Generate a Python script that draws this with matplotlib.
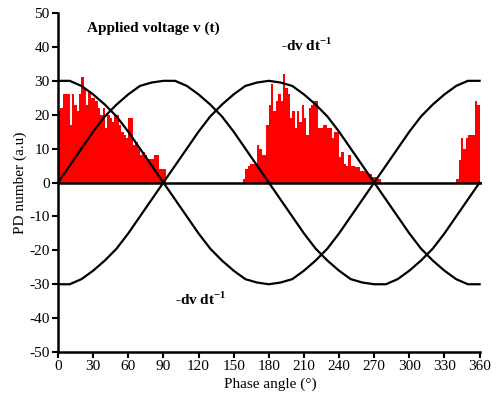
import matplotlib
matplotlib.use("Agg")
import matplotlib.pyplot as plt
import numpy as np

plt.rcParams['font.family'] = ['Liberation Serif', 'DejaVu Serif']
plt.rcParams['mathtext.fontset'] = 'custom'
plt.rcParams['mathtext.rm'] = 'Liberation Serif'
plt.rcParams['mathtext.bf'] = 'Liberation Serif:bold'
plt.rcParams['axes.unicode_minus'] = False

# ---- PD histogram (2 degree bins, left edges) ----
bins1 = list(range(0, 92, 2))
pd1 = [21, 22, 26, 26, 26, 17, 26, 23, 21, 26, 31, 28, 23, 27, 25, 25, 24, 22,
       20, 22, 16, 20, 19, 18, 20, 20, 17, 15, 14, 13, 19, 19, 11, 12, 10, 8,
       9, 8, 7, 7, 7, 8, 8, 4, 4, 4]
bins2 = list(range(158, 276, 2))
pd2 = [1, 4, 5, 5.5, 5.5, 5.5, 11, 10, 8, 8, 17, 23, 29, 21, 24, 26, 24, 32,
       28, 26, 19, 21, 16, 21, 18, 23, 19, 14, 22, 23, 24, 24, 16, 16, 17, 17,
       16, 16, 13, 15, 15, 7.6, 9, 5.5, 5, 8, 5, 5, 4.7, 4.7, 3.5, 3.5, 3, 2.5,
       2.5, 1.5, 1.5, 1, 1]
bins3 = list(range(340, 360, 2))
pd3 = [1, 6.7, 13, 10, 13, 14, 14, 14, 24, 23]

# ---- curves read every 10 degrees ----
phase = list(range(0, 370, 10))
v_t = [0, 5, 10, 15, 19.5, 23, 26, 28.5, 29.5, 30, 30, 28.5, 26, 23, 19.5, 15,
       10, 5, 0, -5, -10, -15, -19.5, -23, -26, -28.5, -29.5, -30, -30, -28.5,
       -26, -23, -19.5, -15, -10, -5, 0]
cos_curve = [30, 30, 28.5, 26, 23, 19.5, 15, 10, 5, 0, -5, -10, -15, -19.5, -23,
             -26, -28.5, -29.5, -30, -29.5, -28.5, -26, -23, -19.5, -15, -10, -5,
             0, 5, 10, 15, 19.5, 23, 26, 28.5, 30, 30]
neg_dvdt = [-c for c in cos_curve]

xticks = list(range(0, 361, 30))
yticks = list(range(-50, 51, 10))

fig = plt.figure(figsize=(4.97, 4.07), dpi=100)
ax = fig.add_axes([0.1167, 0.135, 0.853, 0.833])

for b, h in ((bins1, pd1), (bins2, pd2), (bins3, pd3)):
    ax.bar(b, h, width=2, align='edge', color='#ff0000', linewidth=0, zorder=1)

for yv in (v_t, cos_curve, neg_dvdt):
    ax.plot(phase, yv, color='black', lw=1.6, zorder=3)

ax.axhline(0, color='black', lw=1.8, zorder=4)

ax.set_xlim(0, 362)
ax.set_ylim(-50, 50)
ax.set_xticks(xticks)
ax.set_yticks(yticks)
ax.tick_params(labelsize=11, length=4, width=1.5, direction='out', pad=2)
for s in ('top', 'right'):
    ax.spines[s].set_visible(False)
for s in ('left', 'bottom'):
    ax.spines[s].set_linewidth(1.8)
ax.spines['bottom'].set_bounds(0, 360)

ax.set_xlabel('Phase angle (°)', fontsize=11, labelpad=3)
ax.set_ylabel('PD number (a.u)', fontsize=11, labelpad=2)

ax.text(25, 45.5, 'Applied voltage v (t)', fontsize=11, fontweight='bold',
        va='center', ha='left')
ax.text(190, 40.5, r'-dv dt$^{\mathregular{-1}}$', fontsize=11, fontweight='bold',
        va='center', ha='left')
ax.text(100, -34.5, r'-dv dt$^{\mathregular{-1}}$', fontsize=11, fontweight='bold',
        va='center', ha='left')

fig.savefig('out.png', dpi=100)
